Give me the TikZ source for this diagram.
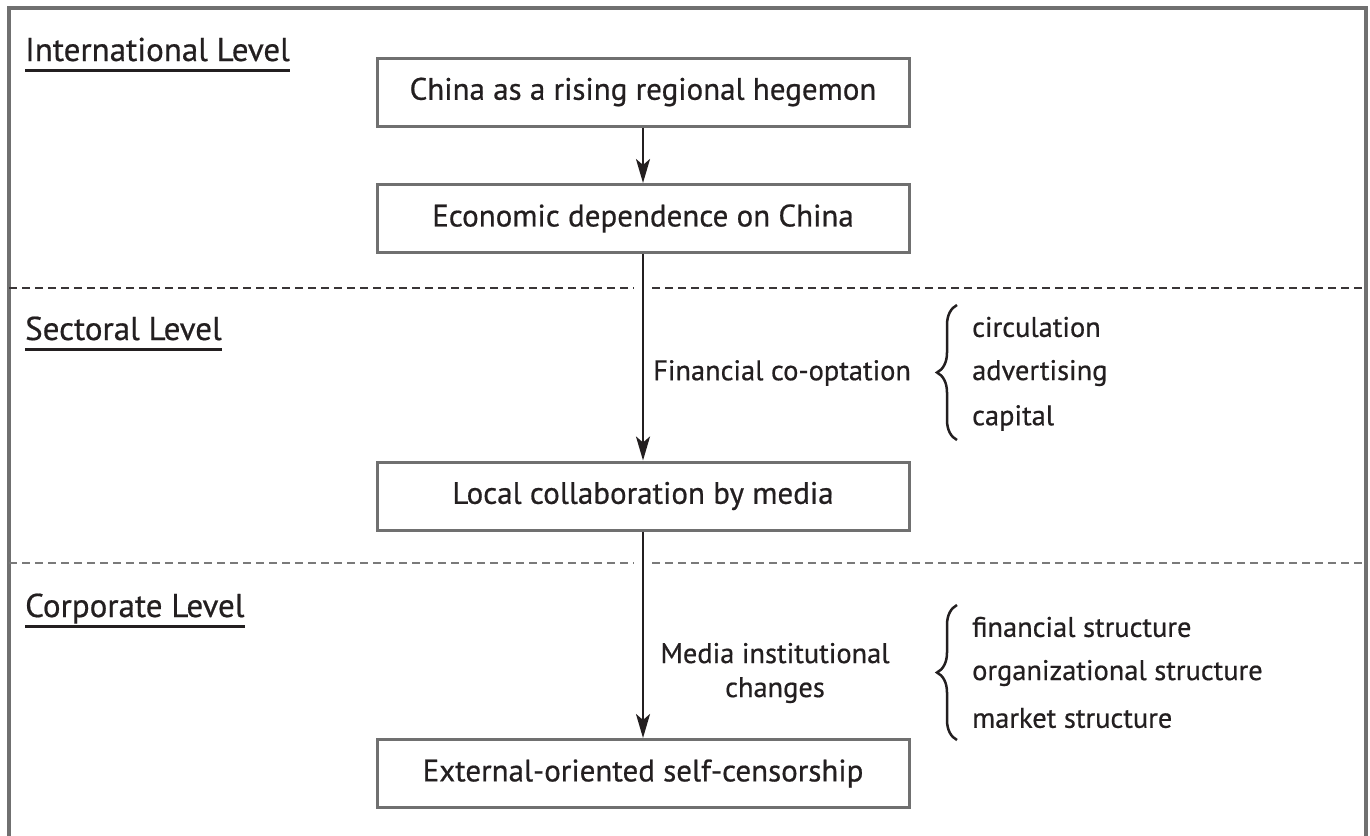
\documentclass[tikz,border=0pt]{standalone}
\usepackage{fontspec}
\setmainfont{PT Sans}[FakeBold=0.6]
\usetikzlibrary{arrows.meta,decorations.pathreplacing,calc}
\definecolor{ink}{HTML}{231F20}
\definecolor{framegray}{HTML}{707070}
\definecolor{dashgray}{HTML}{7A7A7A}
\begin{document}
\begin{tikzpicture}[x=1pt,y=-1pt,
  flowbox/.style={draw=framegray, line width=3pt, minimum width=532pt, minimum height=68pt, inner sep=0pt, text=ink, font=\fontsize{31}{36}\selectfont},
  lvl/.style={inner sep=0pt, text=ink, font=\fontsize{33}{40}\selectfont},
  ul/.style={draw=ink, line width=3pt},
  midlbl/.style={inner sep=0pt, text=ink, font=\fontsize{28.4}{34}\selectfont},
  itemlbl/.style={inner sep=0pt, text=ink, anchor=west, font=\fontsize{28.4}{34}\selectfont},
  arr/.style={draw=ink, line width=2.5pt, -{Stealth[length=24pt,width=14pt,inset=6pt]}},
  sep/.style={line width=2.6pt, dash pattern=on 8pt off 5pt},
  brc/.style={draw=ink, line width=2.5pt, decorate, decoration={brace, amplitude=20pt, aspect=0.5}}
]
\useasboundingbox (0,0) rectangle (1370,835);
% frame
\draw[framegray, line width=3.5pt] (9,840) -- (9,8) -- (1366,8) -- (1366,840);
% level separators
\draw[sep, ink!90] (9,288) -- (634,288);
\draw[sep, ink!90] (652,288) -- (1366,288);
\draw[sep, dashgray] (9,563) -- (634,563);
\draw[sep, dashgray] (652,563) -- (1366,563);
% level labels
\node[lvl, anchor=base west] (l1) at (25,61) {International Level};
\draw[ul] ($(l1.base west)+(0,9)$) -- ($(l1.base east)+(0,9)$);
\node[lvl, anchor=base west] (l2) at (25,340) {Sectoral Level};
\draw[ul] ($(l2.base west)+(0,9)$) -- ($(l2.base east)+(0,9)$);
\node[lvl, anchor=base west] (l3) at (25,617) {Corporate Level};
\draw[ul] ($(l3.base west)+(0,9)$) -- ($(l3.base east)+(0,9)$);
% boxes
\node[flowbox] (b1) at (643,92) {China as a rising regional hegemon};
\node[flowbox] (b2) at (643,218.5) {Economic dependence on China};
\node[flowbox] (b3) at (643,496) {Local collaboration by media};
\node[flowbox] (b4) at (643,773.5) {External-oriented self-censorship};
% arrows
\draw[arr] (b1) -- (b2);
\draw[arr] (b2) -- (b3);
\draw[arr] (b3) -- (b4);
% financial co-optation
\node[midlbl, anchor=west] (fc) at (653,373) {Financial co-optation};
\draw[brc] (957,440) -- (957,305);
\node[itemlbl] (i1) at (972,327) {circulation};
\node[itemlbl] (i2) at (972,373) {advertising};
\node[itemlbl] (i3) at (972,418) {capital};
% media institutional changes
\node[midlbl, align=center] (mc) at (775,673) {Media institutional\\changes};
\draw[brc] (957,740) -- (957,605);
\node[itemlbl] (j1) at (972,627) {financial structure};
\node[itemlbl] (j2) at (972,673) {organizational structure};
\node[itemlbl] (j3) at (972,718) {market structure};
\end{tikzpicture}
\end{document}
